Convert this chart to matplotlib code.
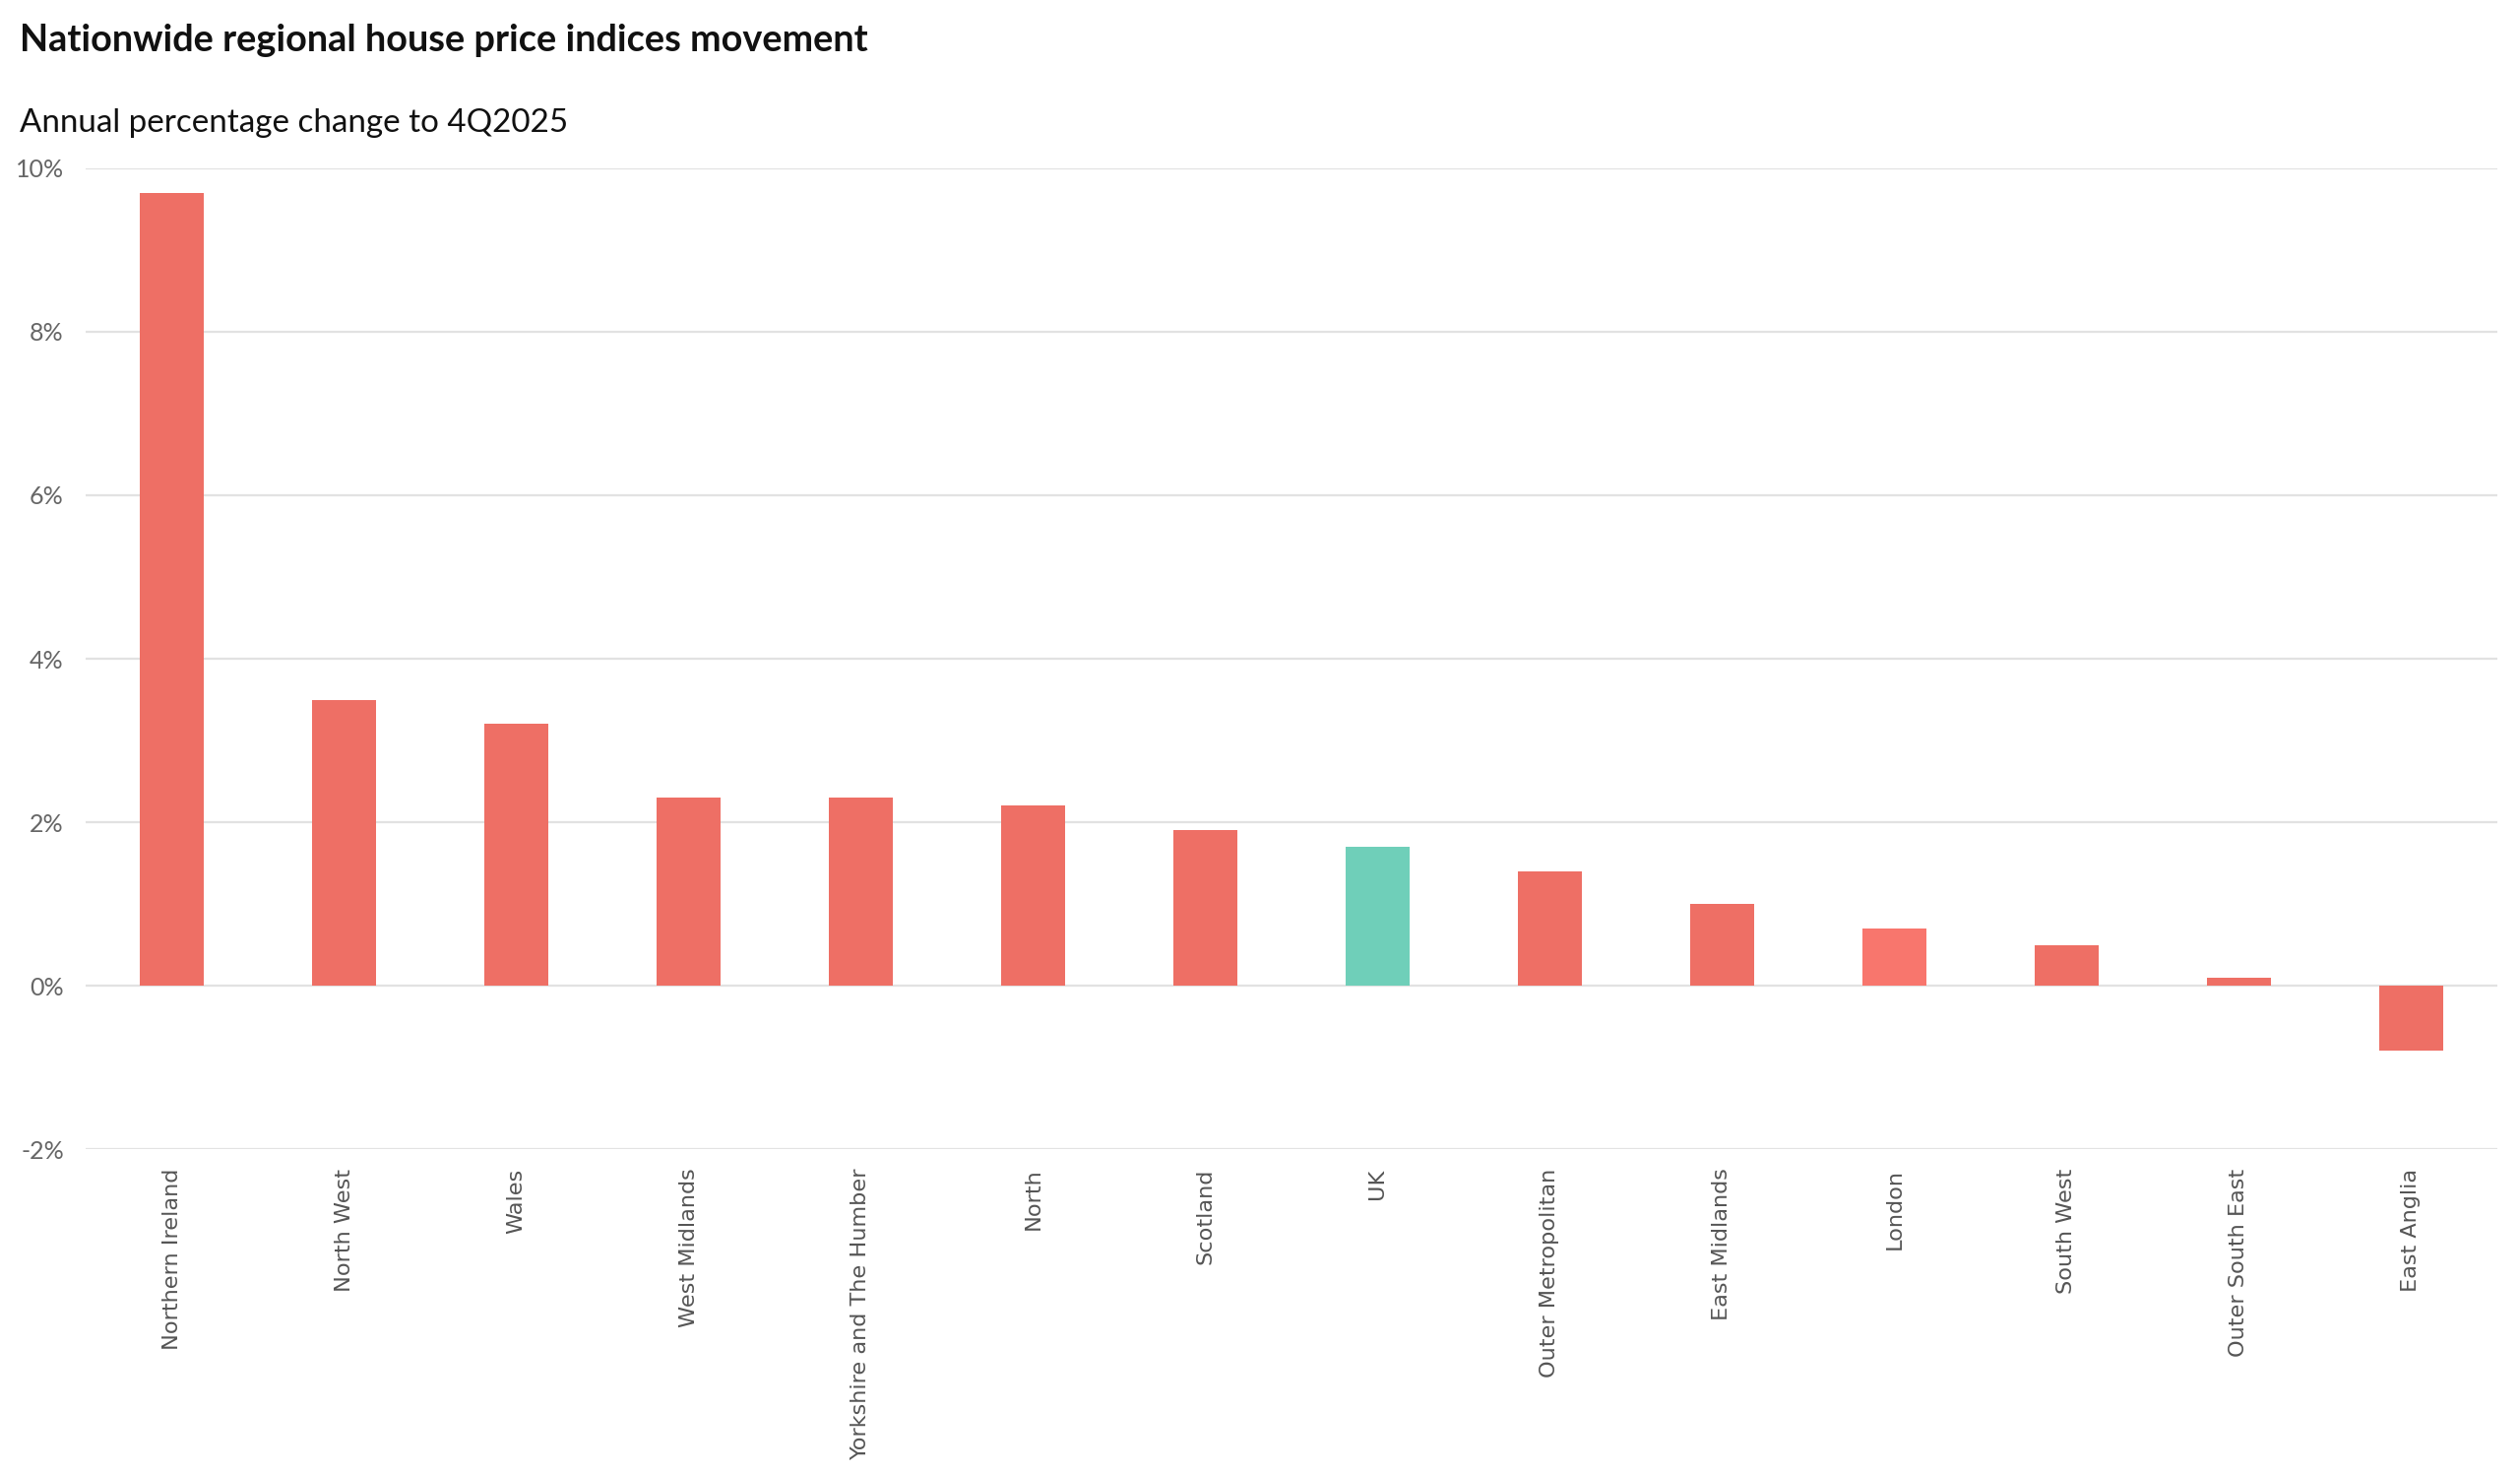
import numpy as np
import matplotlib.pyplot as plt
from matplotlib.ticker import FuncFormatter

# Annual % change to 4Q2025 by region
regions = ['Northern Ireland', 'North West', 'Wales', 'West Midlands',
           'Yorkshire and The Humber', 'North', 'Scotland', 'UK',
           'Outer Metropolitan', 'East Midlands', 'London', 'South West',
           'Outer South East', 'East Anglia']
change = [9.7, 3.5, 3.2, 2.3, 2.3, 2.2, 1.9, 1.7, 1.4, 1.0, 0.7, 0.5, 0.1, -0.8]
yticks = [-2, 0, 2, 4, 6, 8, 10]

red = '#EE6F65'
colors = [red] * len(regions)
colors[regions.index('UK')] = '#6FCFB9'
colors[regions.index('London')] = '#F8766D'

fig = plt.figure(figsize=(12.8, 7.485), dpi=200)
ax = fig.add_axes([0.034, 0.2204, 0.957, 0.6654])

x = np.arange(len(regions))
ax.bar(x, change, width=0.37, color=colors, zorder=3)

ax.set_xlim(-0.5, len(regions) - 0.5)
ax.set_ylim(-2, 10)
ax.set_yticks(yticks)
ax.yaxis.set_major_formatter(FuncFormatter(lambda v, p: f'{v:.0f}%'))
ax.set_xticks(x)
ax.set_xticklabels(regions, rotation=90, family='DejaVu Sans', fontsize=8.05, color='#555555')
for lab in ax.get_yticklabels():
    lab.set_family('Lato')
    lab.set_fontsize(9)
    lab.set_color('#666666')

ax.grid(axis='y', color='#e2e2e2', linewidth=0.8, zorder=0)
ax.tick_params(axis='both', length=0)
ax.tick_params(axis='y', pad=8)
ax.tick_params(axis='x', pad=7)
for s in ax.spines.values():
    s.set_visible(False)

fig.text(0.0078, 1 - 52 / 1497, 'Nationwide regional house price indices movement',
         family='Lato', weight='bold', fontsize=13.65, color='#111111', va='baseline')
fig.text(0.0078, 1 - 134 / 1497, 'Annual percentage change to 4Q2025',
         family='Lato', fontsize=11.95, color='#111111', va='baseline')

fig.savefig('out.png', dpi=200, facecolor='white')
